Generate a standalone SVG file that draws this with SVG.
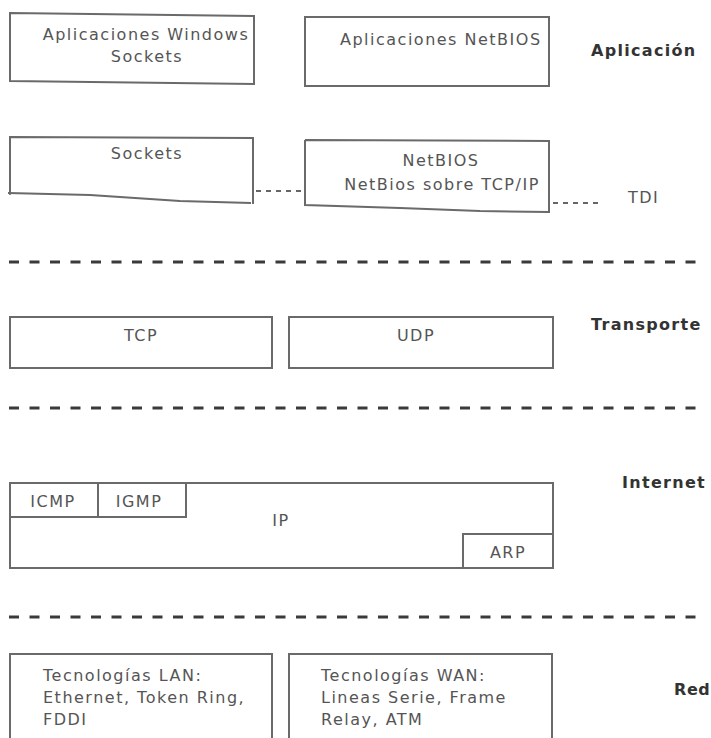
<svg xmlns="http://www.w3.org/2000/svg" width="711" height="738" viewBox="0 0 711 738">
  <style>
    .box { fill: none; stroke: #6a6a6a; stroke-width: 2; }
    .txt { font-family: "DejaVu Sans", "Liberation Sans", sans-serif; font-size: 16px; fill: #555; letter-spacing: 1.5px; }
    .mid { text-anchor: middle; }
    .layer { font-family: "DejaVu Sans", "Liberation Sans", sans-serif; font-size: 16px; font-weight: bold; fill: #333; letter-spacing: 1.3px; }
    .sep { stroke: #3a3a3a; stroke-width: 3; stroke-dasharray: 10 10.5; fill: none; }
    .tdi { stroke: #666; stroke-width: 1.8; stroke-dasharray: 5 5; fill: none; }
  </style>

  <rect width="711" height="738" fill="#fff"/>

  <!-- Application layer -->
  <g id="app-winsock">
    <path class="box" d="M10 13 L254 16 L254 84 L10 81 Z"/>
    <text class="txt mid" x="146" y="40">Aplicaciones Windows</text>
    <text class="txt mid" x="147" y="62">Sockets</text>
  </g>
  <g id="app-netbios">
    <rect class="box" x="305" y="17" width="244" height="69"/>
    <text class="txt" x="340" y="45">Aplicaciones NetBIOS</text>
  </g>
  <g id="label-aplicacion">
    <text class="layer" x="591" y="56">Aplicación</text>
  </g>

  <!-- TDI interfaces -->
  <g id="sockets">
    <path class="box" d="M10 195 L10 137 L253 138 L253 204 M8 193 L90 195 L180 201 L251 203"/>
    <text class="txt mid" x="147" y="159">Sockets</text>
  </g>
  <g id="netbios">
    <path class="box" d="M305 140 L549 141 L549 213 M305 140 L305 205 L400 208 L480 211 L549 212"/>
    <text class="txt mid" x="441" y="166">NetBIOS</text>
    <text class="txt mid" x="442" y="190">NetBios sobre TCP/IP</text>
  </g>
  <g id="label-tdi">
    <text class="txt" x="628" y="203">TDI</text>
  </g>

  <g id="connectors">
    <path class="tdi" d="M256 191 L304 191"/>
    <path class="tdi" d="M553 203 L600 203"/>
  </g>

  <!-- Layer separators -->
  <g id="separators">
    <line class="sep" x1="9" y1="262" x2="696" y2="262"/>
    <line class="sep" x1="9" y1="408" x2="696" y2="408"/>
    <line class="sep" x1="9" y1="617" x2="696" y2="617"/>
  </g>

  <!-- Transport layer -->
  <g id="tcp">
    <rect class="box" x="10" y="317" width="262" height="51"/>
    <text class="txt mid" x="141" y="341">TCP</text>
  </g>
  <g id="udp">
    <rect class="box" x="289" y="317" width="264" height="51"/>
    <text class="txt mid" x="416" y="341">UDP</text>
  </g>
  <g id="label-transporte">
    <text class="layer" x="591" y="330">Transporte</text>
  </g>

  <!-- Internet layer -->
  <g id="ip">
    <rect class="box" x="10" y="483" width="543" height="85"/>
    <text class="txt mid" x="281" y="526">IP</text>
  </g>
  <g id="icmp">
    <rect class="box" x="10" y="483" width="88" height="34"/>
    <text class="txt mid" x="53" y="507">ICMP</text>
  </g>
  <g id="igmp">
    <rect class="box" x="98" y="483" width="88" height="34"/>
    <text class="txt mid" x="139" y="507">IGMP</text>
  </g>
  <g id="arp">
    <rect class="box" x="463" y="534" width="90" height="34"/>
    <text class="txt mid" x="508" y="558">ARP</text>
  </g>
  <g id="label-internet">
    <text class="layer" x="622" y="488" style="font-weight:600;letter-spacing:1.3px">Internet</text>
  </g>

  <!-- Network layer -->
  <g id="lan">
    <path class="box" d="M10 740 L10 654 L272 654 L272 740"/>
    <text class="txt" x="43" y="681">Tecnologías LAN:</text>
    <text class="txt" x="43" y="703">Ethernet, Token Ring,</text>
    <text class="txt" x="43" y="725">FDDI</text>
  </g>
  <g id="wan">
    <path class="box" d="M289 740 L289 654 L552 654 L552 740"/>
    <text class="txt" x="321" y="681">Tecnologías WAN:</text>
    <text class="txt" x="321" y="703">Lineas Serie, Frame</text>
    <text class="txt" x="321" y="725">Relay, ATM</text>
  </g>
  <g id="label-red">
    <text class="layer" x="674" y="695" style="font-weight:600;letter-spacing:0.6px">Red</text>
  </g>
</svg>
